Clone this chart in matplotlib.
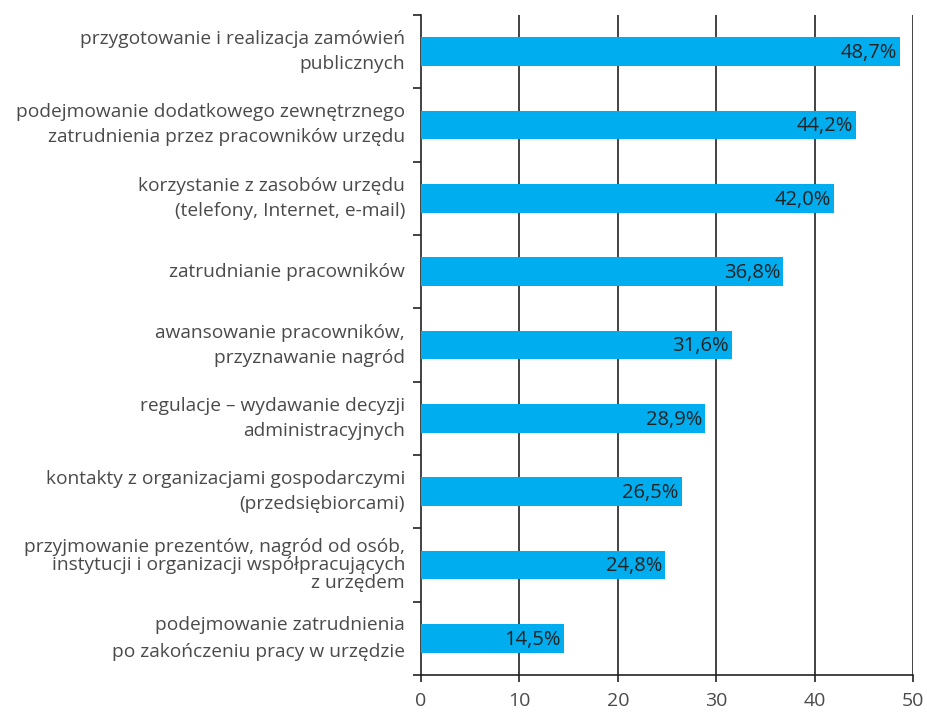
import matplotlib
matplotlib.use("Agg")
import matplotlib.pyplot as plt
from matplotlib.ticker import FixedLocator

# ── Data ──────────────────────────────────────────────────────────────────────
labels = [
    "przygotowanie i realizacja zamówień\npublicznych",
    "podejmowanie dodatkowego zewnętrznego\nzatrudnienia przez pracowników urzędu",
    "korzystanie z zasobów urzędu\n(telefony, Internet, e-mail)",
    "zatrudnianie pracowników",
    "awansowanie pracowników,\nprzyznawanie nagród",
    "regulacje – wydawanie decyzji\nadministracyjnych",
    "kontakty z organizacjami gospodarczymi\n(przedsiębiorcami)",
    "przyjmowanie prezentów, nagród od osób,\ninstytucji i organizacji współpracujących\nz urzędem",
    "podejmowanie zatrudnienia\npo zakończeniu pracy w urzędzie",
]
values = [48.7, 44.2, 42.0, 36.8, 31.6, 28.9, 26.5, 24.8, 14.5]
label_spacing = [1.5, 1.5, 1.5, 1.5, 1.5, 1.5, 1.5, 1.0, 1.6]
x_ticks = [0, 10, 20, 30, 40, 50]

# ── Theme ─────────────────────────────────────────────────────────────────────
BAR = "#00aeef"
INK = "#222222"
TXT = "#4a4a4a"
FONT = ["Open Sans", "DejaVu Sans"]

plt.rcParams["font.family"] = FONT

fig = plt.figure(figsize=(9.27, 7.14), dpi=100, facecolor="white")
ax = fig.add_axes([0.454, 0.0546, 0.531, 0.9244])

pos = list(range(len(values)))
ax.barh(pos, values, height=0.39, color=BAR, zorder=3)

ax.set_xlim(0, 50)
ax.set_ylim(len(values) - 0.5, -0.5)

# vertical grid lines
for x in x_ticks[1:]:
    ax.axvline(x, color=INK, lw=1.2, zorder=1)

for sp in ["top", "right"]:
    ax.spines[sp].set_visible(False)
for sp in ["left", "bottom"]:
    ax.spines[sp].set_color(INK)
    ax.spines[sp].set_linewidth(1.2)

ax.set_xticks(x_ticks)
ax.set_xticklabels([str(t) for t in x_ticks], fontsize=14, color=TXT)
ax.tick_params(axis="x", direction="out", length=5, width=1.2, color=INK, pad=7)

ax.set_yticks([])
ax.yaxis.set_minor_locator(FixedLocator([p - 0.5 for p in pos] + [pos[-1] + 0.5]))
ax.tick_params(axis="y", which="minor", direction="out", length=6, width=1.2, color=INK)

# category labels (drawn as text so each can have its own line spacing)
for p, lab, ls in zip(pos, labels, label_spacing):
    ax.text(-1.6, p, lab, ha="right", va="center", fontsize=13.8, color=TXT,
            linespacing=ls, clip_on=False)

# value labels inside the bars
for p, v in zip(pos, values):
    ax.text(v - 0.3, p + 0.02, f"{v:.1f}%".replace(".", ","), ha="right", va="center",
            fontsize=14.5, color=INK, zorder=4)

fig.savefig("out.png", dpi=100, facecolor="white")
